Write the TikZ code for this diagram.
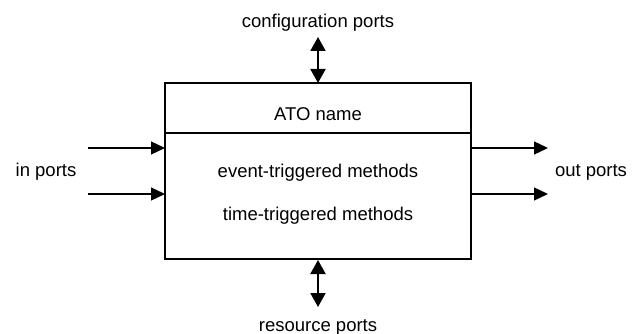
\documentclass[tikz,border=0pt]{standalone}
\usepackage{fontspec}
\setmainfont{Liberation Sans}
\usetikzlibrary{arrows.meta}
\begin{document}
\begin{tikzpicture}[x=1pt,y=-1pt,
  lbl/.style={font=\fontsize{18.5}{21}\selectfont, inner sep=0pt, anchor=base},
  port/.style={line width=1.3pt, -{Triangle[length=14pt,width=13pt]}},
  bidir/.style={line width=2pt, {Triangle[length=14pt,width=15pt]}-{Triangle[length=14pt,width=15pt]}}]
  \useasboundingbox (0,0) rectangle (637,334);
  % main block and its title row
  \draw[line width=1.5pt] (165,83) rectangle (471,259);
  \draw[line width=1.5pt] (165,133) -- (471,133);
  \node[lbl] (name) at (318,121) {ATO name};
  \node[lbl] (evt) at (318,177) {event-triggered methods};
  \node[lbl] (tim) at (318,220) {time-triggered methods};
  % anchor points on the block edges
  \coordinate (topc) at (318,83);
  \coordinate (botc) at (318,260);
  \coordinate (in1) at (165,148);
  \coordinate (in2) at (165,194);
  \coordinate (out1) at (471,148);
  \coordinate (out2) at (471,194);
  \coordinate (in1s) at (88,148);
  \coordinate (in2s) at (88,194);
  \coordinate (out1e) at (548,148);
  \coordinate (out2e) at (548,194);
  \coordinate (cfgend) at (318,37);
  \coordinate (resend) at (318,307);
  % port labels
  \node[lbl] (cfg) at (318,28) {configuration ports};
  \node[lbl] (res) at (318,331) {resource ports};
  \node[lbl] (inp) at (46,176) {in ports};
  \node[lbl] (outp) at (591,176) {out ports};
  % connectors
  \draw[bidir] (cfgend) -- (topc);
  \draw[bidir] (botc) -- (resend);
  \draw[port] (in1s) -- (in1);
  \draw[port] (in2s) -- (in2);
  \draw[port] (out1) -- (out1e);
  \draw[port] (out2) -- (out2e);
\end{tikzpicture}
\end{document}
